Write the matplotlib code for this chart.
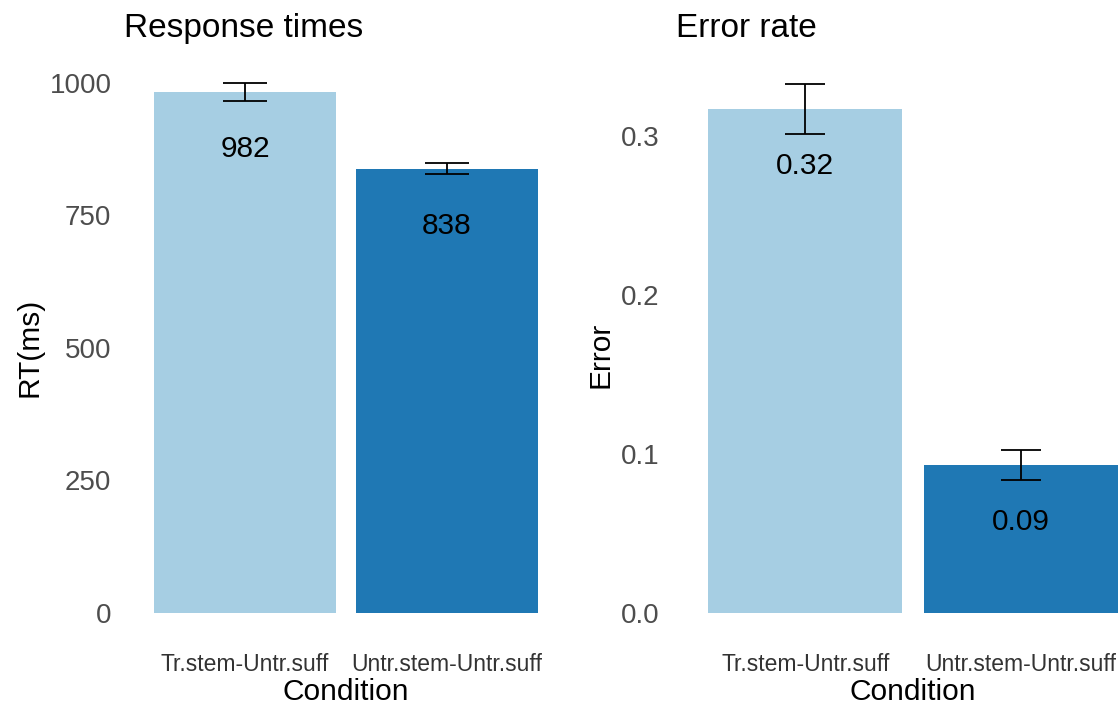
import numpy as np
import matplotlib
matplotlib.use('Agg')
import matplotlib.pyplot as plt

plt.rcParams['font.family'] = ['Liberation Sans', 'DejaVu Sans']

conditions = ['Tr.stem-Untr.suff', 'Untr.stem-Untr.suff']
rt_mean = [982, 838]
rt_se = [17, 11]
err_mean = [0.317, 0.093]
err_se = [0.016, 0.0095]
bar_colors = ['#a6cee3', '#1f78b4']

W, H = 1118, 704
fig = plt.figure(figsize=(W / 100, H / 100), dpi=100)


def px_axes(left, right, top, bottom):
    return fig.add_axes([left / W, 1 - bottom / H, (right - left) / W, (bottom - top) / H])


def panel(ax, means, ses, labels, title, ylabel, ylim, yticks, yfmt, cap):
    x = np.arange(1, len(means) + 1)
    ax.bar(x, means, width=0.9, color=bar_colors, zorder=1)
    ax.errorbar(x, means, yerr=ses, fmt='none', ecolor='black', elinewidth=1.3,
                capsize=cap, capthick=1.3, zorder=3)
    for xi, m, lab in zip(x, means, labels):
        ax.annotate(lab, (xi, m), xytext=(0, -41), textcoords='offset points',
                    ha='center', va='center', fontsize=21.5, color='black', zorder=4)
    ax.set_xlim(0.4, 2.6)
    ax.set_ylim(*ylim)
    ax.set_yticks(yticks)
    ax.set_yticklabels([yfmt.format(v) for v in yticks])
    ax.set_xticks(x)
    ax.set_xticklabels(conditions)
    for s in ax.spines.values():
        s.set_visible(False)
    ax.tick_params(axis='y', length=0, labelsize=20, labelcolor='#4d4d4d', pad=9)
    ax.tick_params(axis='x', length=0, labelsize=16.5, labelcolor='#333333', pad=29)
    ax.set_title(title, loc='left', fontsize=24, pad=24)
    ax.set_xlabel('Condition', fontsize=21.5, va='top')
    ax.set_ylabel(ylabel, fontsize=21.5)


ax1 = px_axes(124, 568, 70, 613)
panel(ax1, rt_mean, rt_se, ['982', '838'], 'Response times', 'RT(ms)',
      (0, 1024), [0, 250, 500, 750, 1000], '{:d}', 15.5)
ax1.yaxis.set_label_coords(-0.182, 0.49)
ax1.xaxis.set_label_coords(0.5, -0.12)

# right panel runs a little past the image edge, as in the reference
ax2 = px_axes(676, 1150, 70, 613)
panel(ax2, err_mean, err_se, ['0.32', '0.09'], 'Error rate', 'Error',
      (0, 0.3415), [0.0, 0.1, 0.2, 0.3], '{:.1f}', 14.5)
ax2.tick_params(axis='y', pad=12)
ax2.yaxis.set_label_coords(-0.129, 0.475)
ax2.xaxis.set_label_coords(0.5, -0.12)

fig.savefig('out.png', dpi=100)
